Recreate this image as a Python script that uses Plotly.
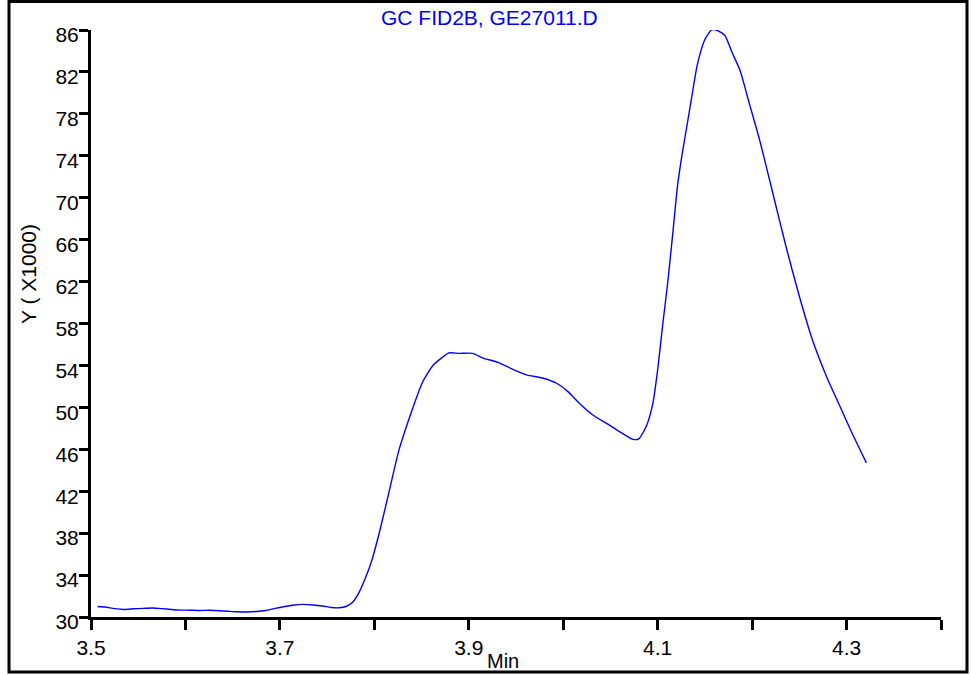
import plotly.graph_objects as go

# Retention time (min) and detector response (x1000)
time_min = [3.507, 3.515, 3.525, 3.535, 3.545, 3.555, 3.565, 3.575, 3.585, 3.595,
            3.605, 3.615, 3.625, 3.635, 3.645, 3.655, 3.665, 3.675, 3.685, 3.695,
            3.705, 3.715, 3.725, 3.735, 3.745, 3.755, 3.763, 3.770, 3.777, 3.783,
            3.790, 3.797, 3.806, 3.816, 3.826, 3.840, 3.851, 3.862, 3.871, 3.879,
            3.890, 3.904, 3.915, 3.931, 3.947, 3.961, 3.978, 3.993, 4.005, 4.017,
            4.031, 4.049, 4.063, 4.074, 4.080, 4.088, 4.095, 4.100, 4.105, 4.111,
            4.116, 4.121, 4.126, 4.132, 4.137, 4.142, 4.150, 4.157, 4.162, 4.171,
            4.179, 4.187, 4.197, 4.208, 4.222, 4.236, 4.250, 4.264, 4.279, 4.293,
            4.306, 4.321]
response = [31.0, 30.95, 30.8, 30.72, 30.78, 30.82, 30.86, 30.8, 30.72, 30.66,
            30.65, 30.62, 30.65, 30.6, 30.55, 30.5, 30.48, 30.52, 30.62, 30.82,
            31.0, 31.15, 31.2, 31.15, 31.05, 30.9, 30.88, 31.0, 31.4, 32.2,
            33.6, 35.3, 38.3, 42.1, 45.9, 49.75, 52.4, 54.0, 54.7, 55.2,
            55.15, 55.15, 54.7, 54.3, 53.6, 53.1, 52.8, 52.3, 51.5, 50.4,
            49.3, 48.3, 47.5, 46.95, 47.0, 48.2, 50.4, 53.6, 57.6, 62.2,
            66.6, 71.1, 74.2, 77.4, 80.1, 82.7, 85.1, 86.0, 86.0, 85.5,
            83.8, 82.2, 79.0, 75.5, 70.4, 65.3, 60.6, 56.4, 52.9, 50.1,
            47.5, 44.7]

x_ticks = [3.5, 3.6, 3.7, 3.8, 3.9, 4.0, 4.1, 4.2, 4.3, 4.4]
x_tick_text = ["3.5", "", "3.7", "", "3.9", "", "4.1", "", "4.3", ""]
y_ticks = list(range(30, 87, 4))

title_text = "GC FID2B, GE27011.D"
y_label = "Y ( X1000)"
x_label = "Min"

FONT = "Liberation Sans, Arial, sans-serif"

fig = go.Figure()
fig.add_trace(go.Scatter(x=time_min, y=response, mode="lines", line_shape="spline",
                         line=dict(color="#0000ff", width=1.4, smoothing=0.6),
                         showlegend=False, hoverinfo="skip"))

L, R, T, B = 91, 30, 30, 58
W, H = 971, 675
pw, ph = W - L - R, H - T - B

def px2x(px):
    return (px - L) / pw

def px2y(py):
    return (H - B - py) / ph

fig.update_layout(
    width=W, height=H,
    margin=dict(l=L, r=R, t=T, b=B, pad=0),
    paper_bgcolor="white", plot_bgcolor="white",
    xaxis=dict(range=[3.5, 4.4], tickmode="array", tickvals=x_ticks, ticktext=x_tick_text,
               showgrid=False, zeroline=False, showline=True, linecolor="black", linewidth=3,
               ticks="outside", ticklen=10, tickwidth=3, tickcolor="black",
               tickfont=dict(family=FONT, size=21, color="black")),
    yaxis=dict(range=[30, 86], tickmode="array", tickvals=y_ticks,
               showgrid=False, zeroline=False, showline=True, linecolor="black", linewidth=3,
               ticks="outside", ticklen=9, tickwidth=3, tickcolor="black",
               ticklabelshift=5, ticklabelstandoff=-4,
               tickfont=dict(family=FONT, size=21, color="black")),
    shapes=[dict(type="rect", xref="paper", yref="paper",
                 x0=px2x(9), x1=px2x(967), y0=px2y(672), y1=px2y(1.5),
                 line=dict(color="black", width=3), fillcolor="rgba(0,0,0,0)", layer="above")],
    annotations=[
        dict(text=title_text, xref="paper", yref="paper", x=px2x(489), y=px2y(18),
             showarrow=False, xanchor="center", yanchor="middle",
             font=dict(family=FONT, size=21, color="#0000ff")),
        dict(text=y_label, xref="paper", yref="paper", x=px2x(28), y=px2y(274),
             showarrow=False, textangle=-90, xanchor="center", yanchor="middle",
             font=dict(family=FONT, size=21, color="black")),
        dict(text=x_label, xref="paper", yref="paper", x=px2x(503), y=px2y(661),
             showarrow=False, xanchor="center", yanchor="middle",
             font=dict(family=FONT, size=20, color="black")),
    ],
)

fig.write_html("out.html", config={"displayModeBar": False},
               post_script="document.body.style.margin='0';")
